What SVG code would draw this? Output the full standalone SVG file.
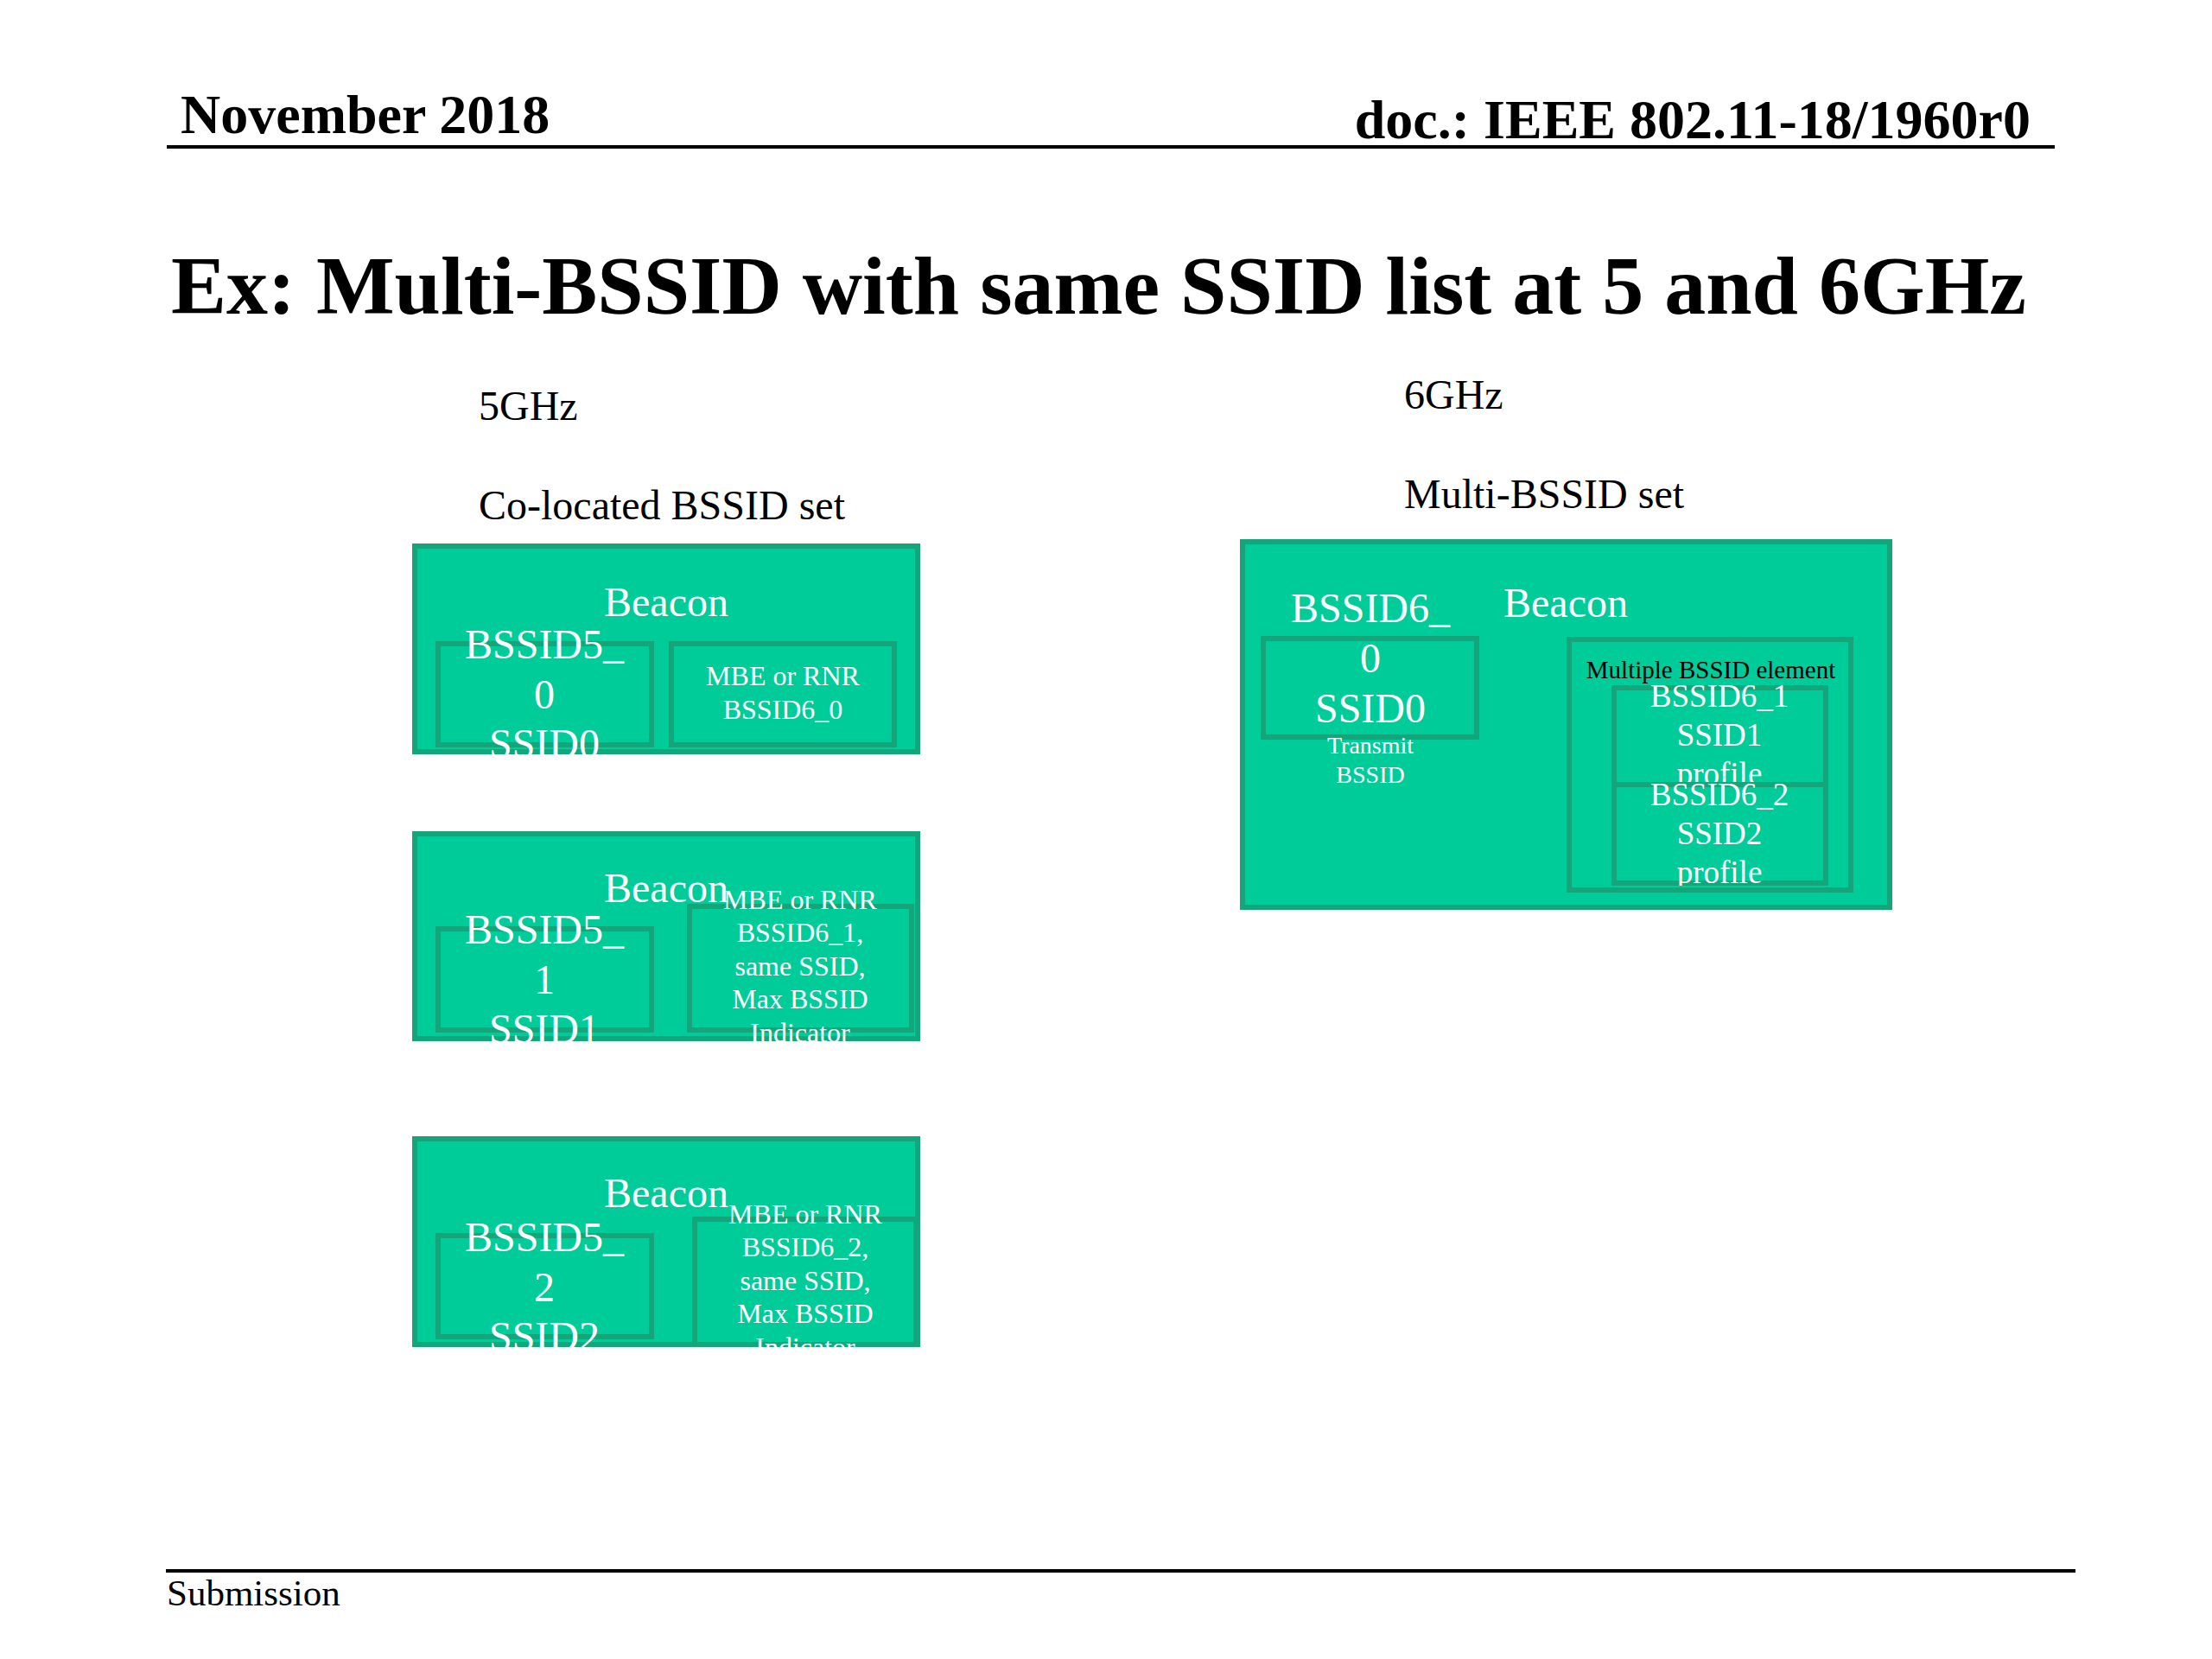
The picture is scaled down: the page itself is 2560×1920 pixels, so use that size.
<svg xmlns="http://www.w3.org/2000/svg" width="2560" height="1920" viewBox="0 0 2560 1920">
<style>
  .box{fill:#00CC99;stroke:#14A57A;stroke-width:6}
  .t{font-family:"Liberation Serif","Times New Roman",serif;fill:#000}
  .b{font-weight:bold}
  .w{fill:#ffffff;text-anchor:middle}
  .f48{font-size:48px}
  .f32{font-size:32px}
  .f28{font-size:28px}
  .f37{font-size:37px}
  .rule{stroke:#000;stroke-width:4}
</style>
<defs>
  <clipPath id="c1"><rect x="477" y="629" width="588" height="244"/></clipPath>
  <clipPath id="c2"><rect x="477" y="962" width="588" height="243"/></clipPath>
  <clipPath id="c3"><rect x="477" y="1315" width="588" height="244"/></clipPath>
  <clipPath id="c6"><rect x="1435" y="624" width="755" height="429"/></clipPath>
  <clipPath id="cp1"><rect x="1865" y="793" width="251" height="112"/></clipPath>
  <clipPath id="cp2"><rect x="1865" y="905" width="251" height="120"/></clipPath>
</defs>
<rect width="2560" height="1920" fill="#ffffff"/>

<g id="header">
  <text class="t b" x="209" y="154" font-size="64">November 2018</text>
  <text class="t b" x="2350" y="160" font-size="64" text-anchor="end">doc.: IEEE 802.11-18/1960r0</text>
  <line class="rule" x1="193" y1="170" x2="2378" y2="170"/>
</g>

<g id="title">
  <text class="t b" x="198" y="363" font-size="96">Ex: Multi-BSSID with same SSID list at 5 and 6GHz</text>
</g>

<g id="labels">
  <text class="t f48" x="554" y="486">5GHz</text>
  <text class="t f48" x="554" y="601">Co-located BSSID set</text>
  <text class="t f48" x="1625" y="473">6GHz</text>
  <text class="t f48" x="1625" y="588">Multi-BSSID set</text>
</g>

<g id="beacon5-0" clip-path="url(#c1)">
  <rect class="box" x="480" y="632" width="582" height="238"/>
  <rect class="box" x="507" y="745" width="247" height="117"/>
  <rect class="box" x="777" y="745" width="258" height="117"/>
  <text class="t w f48" x="771" y="713">Beacon</text>
  <text class="t w f48" x="630"><tspan x="630" y="762">BSSID5_</tspan><tspan x="630" y="820">0</tspan><tspan x="630" y="877">SSID0</tspan></text>
  <text class="t w f32" x="906"><tspan x="906" y="793">MBE or RNR</tspan><tspan x="906" y="832">BSSID6_0</tspan></text>
</g>

<g id="beacon5-1" clip-path="url(#c2)">
  <rect class="box" x="480" y="965" width="582" height="237"/>
  <rect class="box" x="507" y="1075" width="247" height="117"/>
  <rect class="box" x="798" y="1049" width="257" height="143"/>
  <text class="t w f48" x="771" y="1044">Beacon</text>
  <text class="t w f48" x="630"><tspan x="630" y="1092">BSSID5_</tspan><tspan x="630" y="1150">1</tspan><tspan x="630" y="1207">SSID1</tspan></text>
  <text class="t w f32" x="926"><tspan x="926" y="1052">MBE or RNR</tspan><tspan x="926" y="1090">BSSID6_1,</tspan><tspan x="926" y="1129">same SSID,</tspan><tspan x="926" y="1167">Max BSSID</tspan><tspan x="926" y="1206">Indicator</tspan></text>
</g>

<g id="beacon5-2" clip-path="url(#c3)">
  <rect class="box" x="480" y="1318" width="582" height="238"/>
  <rect class="box" x="507" y="1430" width="247" height="117"/>
  <rect class="box" x="804" y="1411" width="256" height="145"/>
  <text class="t w f48" x="771" y="1397">Beacon</text>
  <text class="t w f48" x="630"><tspan x="630" y="1448">BSSID5_</tspan><tspan x="630" y="1506">2</tspan><tspan x="630" y="1563">SSID2</tspan></text>
  <text class="t w f32" x="932"><tspan x="932" y="1416">MBE or RNR</tspan><tspan x="932" y="1454">BSSID6_2,</tspan><tspan x="932" y="1493">same SSID,</tspan><tspan x="932" y="1531">Max BSSID</tspan><tspan x="932" y="1570">Indicator</tspan></text>
</g>

<g id="beacon6" clip-path="url(#c6)">
  <rect class="box" x="1438" y="627" width="749" height="423"/>
  <rect class="box" x="1462" y="739" width="247" height="114"/>
  <text class="t w f48" x="1812" y="714">Beacon</text>
  <text class="t w f48" x="1586"><tspan x="1586" y="720">BSSID6_</tspan><tspan x="1586" y="778">0</tspan><tspan x="1586" y="836">SSID0</tspan></text>
  <text class="t w f28" x="1586"><tspan x="1586" y="872">Transmit</tspan><tspan x="1586" y="906">BSSID</tspan></text>
  <g id="mbssid-element">
    <rect class="box" x="1816" y="740" width="326" height="290"/>
    <text class="t" x="1980" y="785" font-size="29" text-anchor="middle">Multiple BSSID element</text>
  </g>
  <g id="profile1">
    <rect class="box" x="1868" y="796" width="245" height="112"/>
    <text class="t w f37" x="1990" clip-path="url(#cp1)"><tspan x="1990" y="818">BSSID6_1</tspan><tspan x="1990" y="863">SSID1</tspan><tspan x="1990" y="908">profile</tspan></text>
  </g>
  <g id="profile2">
    <rect class="box" x="1868" y="908" width="245" height="114"/>
    <text class="t w f37" x="1990" clip-path="url(#cp2)"><tspan x="1990" y="932">BSSID6_2</tspan><tspan x="1990" y="977">SSID2</tspan><tspan x="1990" y="1022">profile</tspan></text>
  </g>
</g>

<g id="footer">
  <line class="rule" x1="192" y1="1818" x2="2402" y2="1818"/>
  <text class="t" x="193" y="1858" font-size="43">Submission</text>
</g>
</svg>
